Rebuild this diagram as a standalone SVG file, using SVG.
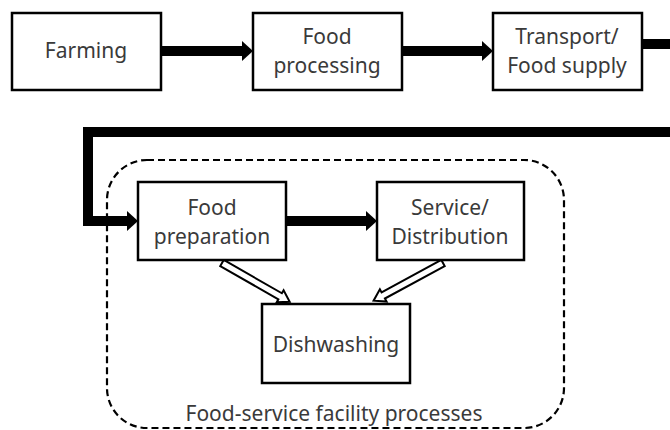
<svg xmlns="http://www.w3.org/2000/svg" width="670" height="430" viewBox="0 0 670 430">
<defs>
<style>
.box{fill:#fff;stroke:#000;stroke-width:2.5}
.t{font-family:"Noto Sans","Open Sans","Liberation Sans",sans-serif;font-size:21px;fill:#3a3a3a;text-anchor:middle}
.thick{fill:none;stroke:#000;stroke-width:10;stroke-linejoin:miter}
.head{fill:#000}
.hollow{fill:#fff;stroke:#000;stroke-width:2;stroke-linejoin:miter}
.frame{fill:none;stroke:#000;stroke-width:2.2;stroke-dasharray:7 4}
</style>
</defs>
<rect width="670" height="430" fill="#fff"/>
<g id="facility">
<rect class="frame" x="107" y="160" width="457" height="268" rx="40" ry="40"/>
<text class="t" x="334" y="421">Food-service facility processes</text>
</g>
<g id="connectors">
<line class="thick" x1="161" y1="51" x2="244" y2="51"/>
<polygon class="head" points="242,41 253,51 242,61"/>
<line class="thick" x1="402" y1="51" x2="484" y2="51"/>
<polygon class="head" points="482,41 493,51 482,61"/>
<polyline class="thick" points="642,44 680,44 680,132 88,132 88,221 128,221"/>
<polygon class="head" points="127,211 138,221 127,231"/>
<line class="thick" x1="286" y1="221" x2="368" y2="221"/>
<polygon class="head" points="366,211 377,221 366,231"/>
<polygon class="hollow" transform="translate(222,263) rotate(29.8)" points="0,-3.5 67,-3.5 67,-7 78,0 67,7 67,3.5 0,3.5"/>
<polygon class="hollow" transform="translate(443,263) rotate(151.5)" points="0,-3.5 68,-3.5 68,-7 79,0 68,7 68,3.5 0,3.5"/>
</g>
<g id="farming">
<rect class="box" x="12" y="13" width="149" height="77"/>
<text class="t" x="86" y="58">Farming</text>
</g>
<g id="food-processing">
<rect class="box" x="253" y="13" width="149" height="77"/>
<text class="t" x="327" y="44">Food</text>
<text class="t" x="327" y="73">processing</text>
</g>
<g id="transport">
<rect class="box" x="493" y="13" width="149" height="77"/>
<text class="t" x="567" y="44">Transport/</text>
<text class="t" x="567" y="73">Food supply</text>
</g>
<g id="food-preparation">
<rect class="box" x="138" y="182" width="148" height="78"/>
<text class="t" x="212" y="215">Food</text>
<text class="t" x="212" y="244">preparation</text>
</g>
<g id="service">
<rect class="box" x="377" y="182" width="147" height="78"/>
<text class="t" x="450" y="215">Service/</text>
<text class="t" x="450" y="244">Distribution</text>
</g>
<g id="dishwashing">
<rect class="box" x="262" y="304" width="148" height="79"/>
<text class="t" x="336" y="352">Dishwashing</text>
</g>
</svg>
